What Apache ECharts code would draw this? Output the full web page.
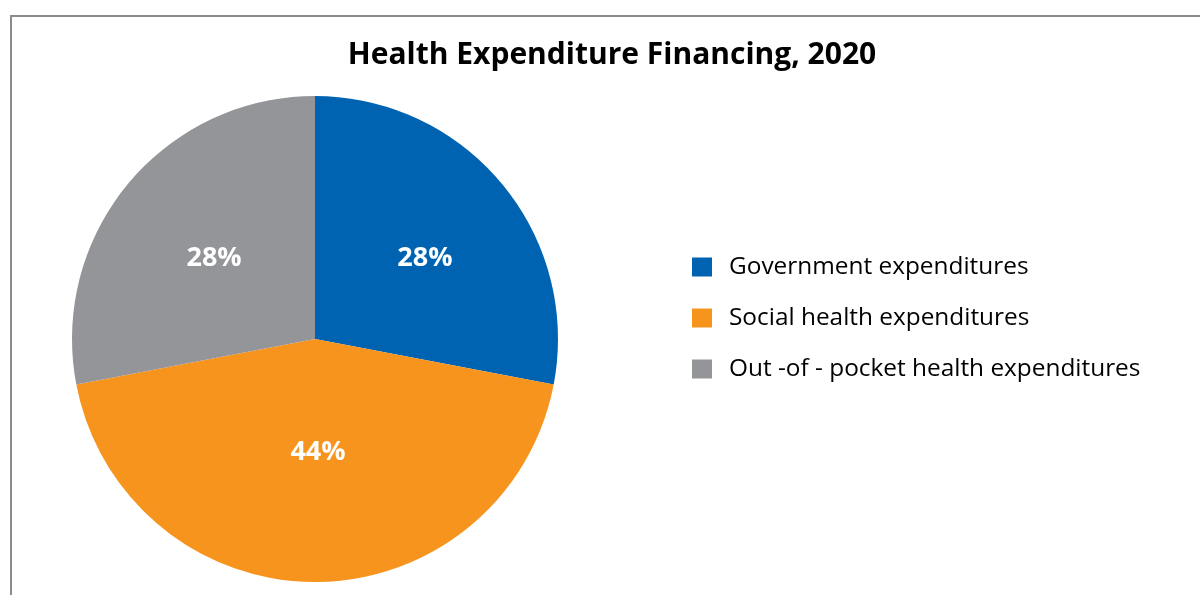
<!DOCTYPE html>
<html>
<head>
<meta charset="utf-8">
<script src="https://cdn.jsdelivr.net/npm/echarts@6/dist/echarts.min.js"></script>
<style>
  html, body { margin: 0; padding: 0; background: #ffffff; }
  #chart { width: 1200px; height: 595px; }
</style>
</head>
<body>
<div id="chart"></div>
<script>
// Health expenditure financing shares, 2020 (percent)
const categories = [
  'Government expenditures',
  'Social health expenditures',
  'Out -of - pocket health expenditures'
];
const shares = [28, 44, 28];
const sliceColors = ['#0063b1', '#f7941e', '#939598'];

// small nudges for the in-slice percentage labels
const labelNudge = [[14, -1], [3, -11], [-5, -1]];

const chart = echarts.init(document.getElementById('chart'), null, { renderer: 'canvas' });

chart.setOption({
  animation: false,
  backgroundColor: '#ffffff',
  title: {
    text: 'Health Expenditure Financing, 2020',
    left: 607,
    top: 35,
    textAlign: 'center',
    textStyle: {
      fontFamily: 'Open Sans',
      fontWeight: 'bold',
      fontSize: 30,
      color: '#000000'
    }
  },
  legend: {
    orient: 'vertical',
    left: 687,
    top: 250,
    itemWidth: 20,
    itemHeight: 19,
    itemGap: 27,
    icon: 'rect',
    selectedMode: false,
    textStyle: {
      fontFamily: 'Open Sans',
      fontSize: 24.4,
      color: '#000000',
      padding: [0, 0, 0, 12]
    },
    data: categories
  },
  graphic: [{
    type: 'rect',
    silent: true,
    shape: { x: 11, y: 16, width: 1400, height: 900 },
    style: { fill: 'none', stroke: '#8c8c8c', lineWidth: 2 }
  }],
  series: [{
    type: 'pie',
    center: [315, 339],
    radius: [0, 243],
    startAngle: 90,
    clockwise: true,
    avoidLabelOverlap: false,
    itemStyle: { borderWidth: 0 },
    label: {
      show: true,
      position: 'inside',
      formatter: '{c}%',
      fontFamily: 'Open Sans',
      fontWeight: 'bold',
      fontSize: 27,
      color: '#ffffff'
    },
    labelLine: { show: false },
    labelLayout: function (params) {
      const n = labelNudge[params.dataIndex];
      return { dx: n[0], dy: n[1] };
    },
    emphasis: { disabled: true },
    data: categories.map((name, i) => ({
      name: name,
      value: shares[i],
      itemStyle: { color: sliceColors[i] }
    }))
  }]
});
</script>
</body>
</html>
